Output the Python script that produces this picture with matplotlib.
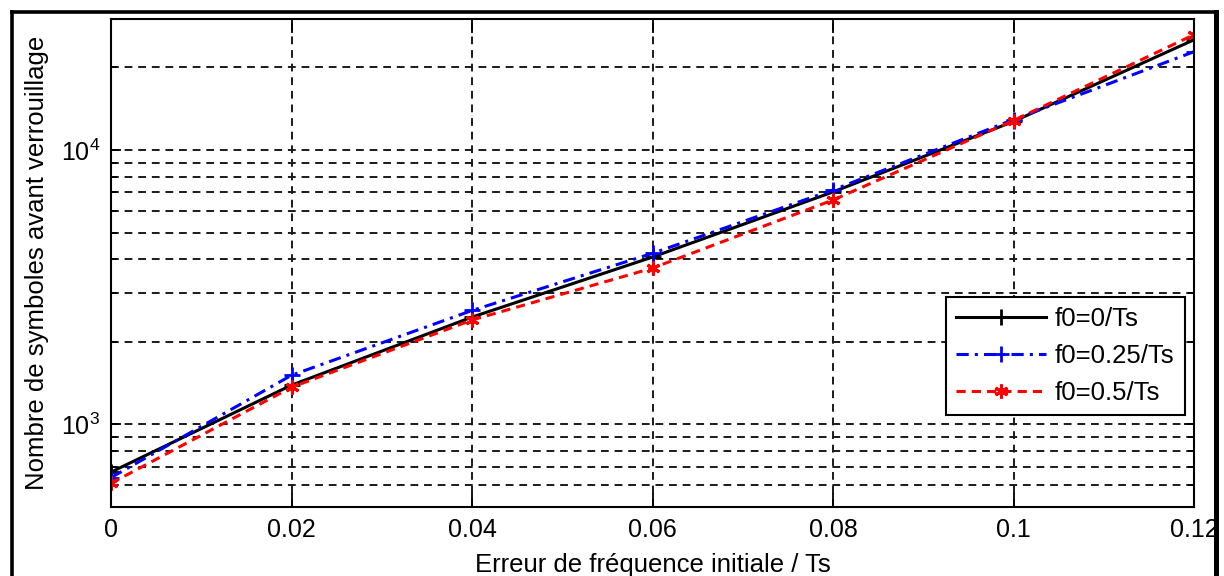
import matplotlib
matplotlib.use("Agg")
import matplotlib.pyplot as plt
from matplotlib.lines import Line2D
from matplotlib.ticker import LogLocator, NullFormatter, FixedLocator

plt.rcParams["font.family"] = ["Liberation Sans", "DejaVu Sans"]
plt.rcParams["mathtext.fontset"] = "custom"
plt.rcParams["mathtext.rm"] = "Liberation Sans"
plt.rcParams["mathtext.it"] = "Liberation Sans"

# initial frequency error (normalised by Ts)
freq_err = [0.0, 0.02, 0.04, 0.06, 0.08, 0.10, 0.12]

# number of symbols before lock, one curve per f0
n_f0_0 = [670, 1390, 2460, 4070, 7030, 12700, 25200]
n_f0_025 = [640, 1510, 2600, 4200, 7150, 12900, 22800]
n_f0_05 = [610, 1365, 2400, 3710, 6570, 12800, 26300]

labels = ["f0=0/Ts", "f0=0.25/Ts", "f0=0.5/Ts"]

W, H = 1224, 576
fig = plt.figure(figsize=(W / 100, H / 100), dpi=100)
ax = fig.add_axes([111 / W, 1 - 507 / H, (1194 - 111) / W, (507 - 19) / H])

ax.plot(freq_err, n_f0_0, color="black", lw=2.2, marker="+", ms=12, mew=2.0,
        label=labels[0])
ax.plot(freq_err, n_f0_025, color="blue", lw=2.2, ls=(0, (4, 2, 1, 2)),
        marker="+", ms=12, mew=2.0, label=labels[1])
ax.plot(freq_err, n_f0_05, color="red", lw=2.2, ls=(0, (3, 2)),
        marker=(6, 2, 0), ms=10, mew=2.2, label=labels[2])

ax.set_yscale("log")
ax.set_xlim(0, 0.12)
ax.set_ylim(500, 30000)
ax.set_xticks(freq_err)
ax.set_xticklabels(["0", "0.02", "0.04", "0.06", "0.08", "0.1", "0.12"])
ax.yaxis.set_major_locator(FixedLocator([1e3, 1e4]))
ax.set_yticklabels([r"$10^{3}$", r"$10^{4}$"])
ax.yaxis.set_minor_locator(LogLocator(base=10, subs=range(2, 10)))
ax.yaxis.set_minor_formatter(NullFormatter())

grid_kw = dict(color="#1a1a1a", lw=1.4, ls=(0, (4, 3)))
ax.grid(True, which="major", axis="both", **grid_kw)
ax.grid(True, which="minor", axis="y", **grid_kw)

ax.tick_params(which="both", direction="in", top=True, right=True,
               labelsize=18, width=1.3, pad=8)
ax.tick_params(axis="x", which="major", length=10)
ax.tick_params(axis="y", which="major", length=7)
ax.tick_params(axis="y", which="minor", length=4)
for s in ax.spines.values():
    s.set_linewidth(1.5)

ax.set_xlabel("Erreur de fréquence initiale / Ts", fontsize=18.5, labelpad=8)
ax.set_ylabel("Nombre de symboles avant verrouillage", fontsize=18.5, labelpad=8)

leg = ax.legend(loc="lower right", bbox_to_anchor=(0.9917, 0.1885),
                borderaxespad=0, fontsize=18.5, fancybox=False, framealpha=1,
                edgecolor="black", handlelength=3.5, handletextpad=0.35,
                labelspacing=0.5, borderpad=0.4)
leg.get_frame().set_linewidth(1.5)

# outer frame around the figure
for xs, ys, lw in [([11.5, 11.5], [H, 11.5], 2.6),
                   ([11.5, 1216], [11.5, 11.5], 2.6),
                   ([1216, 1216], [11.5, H], 3.6)]:
    fig.add_artist(Line2D([x / W for x in xs], [1 - y / H for y in ys],
                          transform=fig.transFigure, color="black", lw=lw))

fig.savefig("out.png", dpi=100)
